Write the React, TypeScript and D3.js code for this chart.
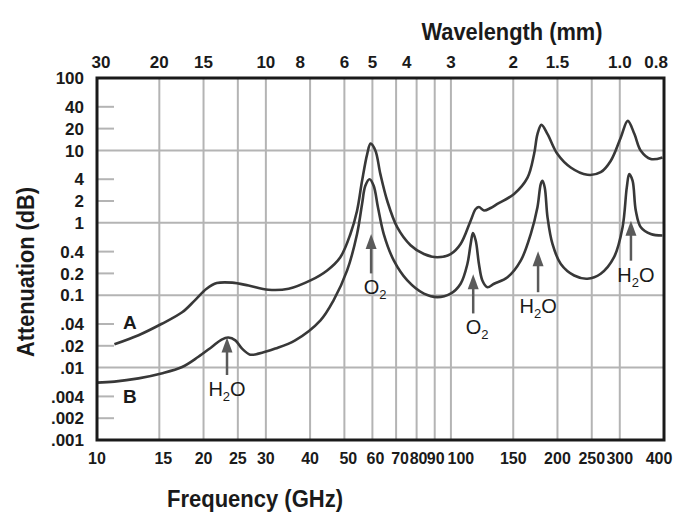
import React from "react";
import * as d3 from "d3";

// ---------- data ----------
const gridFreqs = [15, 20, 25, 30, 40, 50, 60, 70, 80, 90, 100, 150, 200, 250, 300];
const freqTicks = [10, 15, 20, 25, 30, 40, 50, 60, 70, 80, 90, 100, 150, 200, 250, 300, 400];
const wavelengthTicks = [30, 20, 15, 10, 8, 6, 5, 4, 3, 2, 1.5, 1.0, 0.8];
const wavelengthLabels = ["30", "20", "15", "10", "8", "6", "5", "4", "3", "2", "1.5", "1.0", "0.8"];
const attenTicks = [100, 40, 20, 10, 4, 2, 1, 0.4, 0.2, 0.1, 0.04, 0.02, 0.01, 0.004, 0.002, 0.001];
const attenLabels = ["100", "40", "20", "10", "4", "2", "1", "0.4", "0.2", "0.1", ".04", ".02", ".01", ".004", ".002", ".001"];
const majorGrid = [10, 1, 0.1, 0.01];
const minorTicks = [40, 20, 4, 2, 0.4, 0.2, 0.04, 0.02, 0.004, 0.002];

// Curve A (sea level)
const freqA = [11.2, 13.1, 15.2, 17.4, 18.9, 20.4, 21.8, 24.1, 26.8, 30.5, 34.8, 40.1, 44.7, 48.7, 52.0, 54.3, 56.1, 58.0, 59.3, 61.2, 63.2, 66.1, 70.5, 76.9, 83.9, 91.5, 99.8, 106.5, 113.7, 117.5, 120, 124, 129.5, 135.3, 150.8, 164.6, 171.8, 175.6, 180.2, 187.5, 200, 218, 243, 265, 283, 302, 316, 330, 344, 367, 396];
const attenA = [0.021, 0.028, 0.040, 0.058, 0.085, 0.123, 0.147, 0.149, 0.136, 0.119, 0.123, 0.160, 0.220, 0.335, 0.70, 1.47, 3.8, 8.9, 12.4, 9.9, 4.7, 2.0, 0.87, 0.49, 0.37, 0.335, 0.37, 0.51, 1.07, 1.55, 1.65, 1.48, 1.6, 1.82, 2.5, 4.2, 8.9, 16.8, 22.5, 16.8, 8.9, 5.8, 4.6, 5.0, 7.2, 15.1, 25.6, 16.8, 9.9, 7.6, 8.0];

// Curve B (high altitude)
const freqB = [10, 11.2, 13.1, 15.2, 17.4, 19.3, 21.1, 22.5, 23.5, 24.6, 25.7, 27.1, 28.6, 31.9, 36.3, 42.8, 46.6, 50.9, 54.3, 56.1, 57.3, 58.9, 60.5, 62.2, 64.6, 69.0, 75.3, 83.9, 91.5, 99.8, 106.5, 111.3, 113.7, 115.4, 117.5, 120, 122.7, 126.8, 132.4, 144.5, 157.5, 168.1, 175.6, 179.4, 181.4, 184.1, 187.5, 193.6, 204.4, 223, 243, 265, 289, 305.5, 314, 319, 326, 333, 344, 367, 396];
const attenB = [0.0062, 0.0064, 0.0071, 0.0083, 0.0102, 0.014, 0.0193, 0.0244, 0.026, 0.0238, 0.0183, 0.0151, 0.0156, 0.0183, 0.0238, 0.045, 0.085, 0.22, 0.70, 1.82, 3.25, 4.0, 3.25, 1.64, 0.70, 0.30, 0.16, 0.105, 0.094, 0.105, 0.144, 0.27, 0.51, 0.72, 0.57, 0.27, 0.16, 0.129, 0.144, 0.177, 0.30, 0.70, 1.64, 3.43, 3.81, 3.08, 1.19, 0.51, 0.27, 0.187, 0.169, 0.198, 0.335, 0.87, 3.08, 4.7, 3.81, 1.47, 0.87, 0.70, 0.667];

// Absorption line annotations
const lineMolecule = ["H2O", "O2", "O2", "H2O", "H2O"];
const lineFreq = [23.3, 59.5, 115.6, 176.3, 322.6];
const arrowTip = [0.026, 0.70, 0.194, 0.405, 1.07];
const arrowTail = [0.0079, 0.20, 0.056, 0.110, 0.30];

// Curve labels
const curveNames = ["A", "B"];
const curveLabelFreq = [11.85, 11.85];
const curveLabelAtten = [0.0338, 0.00323];

// ---------- layout ----------
const W = 678;
const H = 514;
const L = 97, R = 664, T = 78, B = 440;
const tickFont = "'Liberation Sans', Arial, Helvetica, sans-serif";
const titleFont = "'Liberation Sans Narrow', 'Liberation Sans', Arial, sans-serif";
const gridColor = "#b4b4b4";
const curveColor = "#383838";
const arrowColor = "#5a5a5a";
const labelNudge: Record<number, number> = { 15: 4, 50: 4, 60: 3, 70: 4, 80: 2, 90: 1, 100: 10, 400: -5 };

export default function App() {
  const x = d3.scaleLog().domain([10, 400]).range([L, R]);
  const y = d3.scaleLog().domain([0.001, 100]).range([B, T]);

  const line = d3
    .line<[number, number]>()
    .x((d) => x(d[0]))
    .y((d) => y(d[1]))
    .curve(d3.curveCatmullRom.alpha(0.5));

  const ptsA = freqA.map((f, i) => [f, attenA[i]] as [number, number]);
  const ptsB = freqB.map((f, i) => [f, attenB[i]] as [number, number]);

  const renderMolecule = (m: string) => {
    const base = m.replace("2", "");
    if (m === "H2O") {
      return (
        <>
          H<tspan fontSize={13} dy={5}>2</tspan>
          <tspan dy={-5}>O</tspan>
        </>
      );
    }
    return (
      <>
        {base}
        <tspan fontSize={13} dy={5}>2</tspan>
      </>
    );
  };

  return (
    <svg
      width={W}
      height={H}
      style={{ position: "absolute", left: 0, top: 0, background: "#fff" }}
      xmlns="http://www.w3.org/2000/svg"
    >
      <rect x={0} y={0} width={W} height={H} fill="#fff" />

      {/* vertical grid */}
      {gridFreqs.map((f) => (
        <line key={"vg" + f} x1={x(f)} x2={x(f)} y1={T} y2={B} stroke={gridColor} strokeWidth={2} />
      ))}
      {/* horizontal major grid */}
      {majorGrid.map((v) => (
        <line key={"hg" + v} x1={L} x2={R} y1={y(v)} y2={y(v)} stroke={gridColor} strokeWidth={2} />
      ))}
      {/* minor ticks */}
      {minorTicks.map((v) => (
        <line key={"mt" + v} x1={L} x2={L + 17} y1={y(v)} y2={y(v)} stroke={gridColor} strokeWidth={2} />
      ))}

      {/* curves */}
      <path d={line(ptsA) || ""} fill="none" stroke={curveColor} strokeWidth={2.6} strokeLinejoin="round" />
      <path d={line(ptsB) || ""} fill="none" stroke={curveColor} strokeWidth={2.6} strokeLinejoin="round" />

      {/* frame */}
      <rect x={L} y={T} width={R - L} height={B - T} fill="none" stroke="#1a1a1a" strokeWidth={3} />

      {/* arrows and molecule labels */}
      {lineFreq.map((f, i) => {
        const xa = x(f);
        const yt = y(arrowTip[i]);
        const yb = y(arrowTail[i]);
        const isO2 = lineMolecule[i] === "O2";
        return (
          <g key={"ar" + i}>
            <line x1={xa} x2={xa} y1={yb} y2={yt + 12} stroke={arrowColor} strokeWidth={2.5} />
            <path d={`M${xa},${yt} L${xa - 5.5},${yt + 15} L${xa + 5.5},${yt + 15} Z`} fill={arrowColor} />
            <text
              x={xa + (isO2 ? 4 : i === 4 ? 5 : 0)}
              y={yb + 21}
              textAnchor="middle"
              fontFamily={tickFont}
              fontSize={20}
              fill="#1a1a1a"
            >
              {renderMolecule(lineMolecule[i])}
            </text>
          </g>
        );
      })}

      {/* curve labels */}
      {curveNames.map((n, i) => (
        <text
          key={"cl" + n}
          x={x(curveLabelFreq[i])}
          y={y(curveLabelAtten[i])}
          fontFamily={tickFont}
          fontWeight="bold"
          fontSize={19}
          fill="#1a1a1a"
        >
          {n}
        </text>
      ))}

      {/* bottom tick labels */}
      {freqTicks.map((f) => (
        <text
          key={"bt" + f}
          x={x(f) + (labelNudge[f] || 0)}
          y={464}
          textAnchor="middle"
          fontFamily={tickFont}
          fontWeight="bold"
          fontSize={16}
          fill="#1a1a1a"
        >
          {String(f)}
        </text>
      ))}

      {/* top tick labels (wavelength) */}
      {wavelengthTicks.map((w, i) => (
        <text
          key={"tt" + i}
          x={x(300 / w) + (i === 0 ? 4 : i === 12 ? 2 : 0)}
          y={68}
          textAnchor="middle"
          fontFamily={tickFont}
          fontWeight="bold"
          fontSize={17}
          fill="#1a1a1a"
        >
          {wavelengthLabels[i]}
        </text>
      ))}

      {/* left tick labels */}
      {attenTicks.map((v, i) => (
        <text
          key={"lt" + i}
          x={84}
          y={y(v)}
          dy="0.36em"
          textAnchor="end"
          fontFamily={tickFont}
          fontWeight="bold"
          fontSize={17}
          fill="#1a1a1a"
        >
          {attenLabels[i]}
        </text>
      ))}

      {/* titles */}
      <text x={512} y={40} textAnchor="middle" fontFamily={titleFont} fontWeight="bold" fontSize={24} textLength={181} lengthAdjust="spacingAndGlyphs" fill="#1a1a1a">
        Wavelength (mm)
      </text>
      <text x={255} y={507} textAnchor="middle" fontFamily={titleFont} fontWeight="bold" fontSize={24} textLength={176} lengthAdjust="spacingAndGlyphs" fill="#1a1a1a">
        Frequency (GHz)
      </text>
      <text
        transform="translate(34,272) rotate(-90)"
        textAnchor="middle"
        fontFamily={titleFont}
        fontWeight="bold"
        fontSize={24}
        textLength={170}
        lengthAdjust="spacingAndGlyphs"
        fill="#1a1a1a"
      >
        Attenuation (dB)
      </text>
    </svg>
  );
}
